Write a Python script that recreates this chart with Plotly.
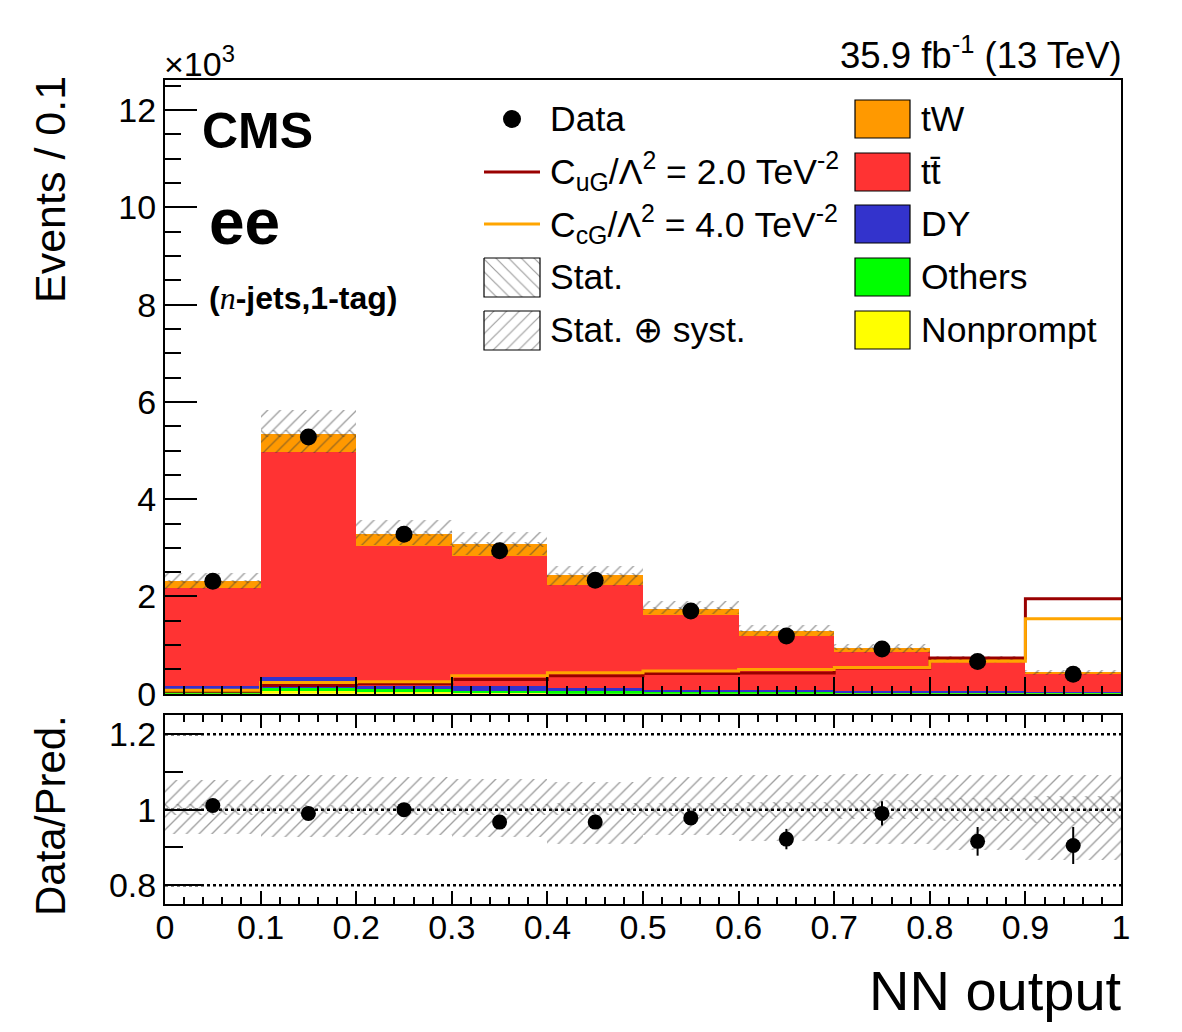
import numpy as np
import plotly.graph_objects as go

# ---------------- data (values in units of 10^3 events) ----------------
bin_edges = [0.0, 0.1, 0.2, 0.3, 0.4, 0.5, 0.6, 0.7, 0.8, 0.9, 1.0]
nonprompt = [0.01, 0.05, 0.04, 0.01, 0.01, 0.01, 0.01, 0.01, 0.01, 0.005]
others    = [0.03, 0.06, 0.05, 0.05, 0.04, 0.03, 0.03, 0.02, 0.02, 0.02]
dy        = [0.11, 0.235, 0.07, 0.10, 0.07, 0.04, 0.03, 0.02, 0.02, 0.01]
ttbar     = [2.03, 4.625, 2.88, 2.67, 2.11, 1.54, 1.11, 0.80, 0.62, 0.375]
tw        = [0.13, 0.38, 0.25, 0.24, 0.21, 0.13, 0.11, 0.08, 0.04, 0.03]
data      = [2.314, 5.28, 3.28, 2.94, 2.335, 1.70, 1.185, 0.92, 0.66, 0.40]
data_err  = [0.048, 0.073, 0.057, 0.054, 0.048, 0.041, 0.034, 0.030, 0.025, 0.020]
cug_sig   = [0.05, 0.17, 0.205, 0.29, 0.37, 0.415, 0.425, 0.53, 0.735, 1.95]
ccg_sig   = [0.07, 0.23, 0.247, 0.37, 0.43, 0.466, 0.50, 0.54, 0.665, 1.54]
ratio     = [1.011, 0.990, 1.000, 0.967, 0.967, 0.978, 0.922, 0.990, 0.916, 0.905]
ratio_err = [0.010, 0.010, 0.012, 0.013, 0.015, 0.018, 0.027, 0.032, 0.038, 0.049]
syst_up   = [0.077, 0.090, 0.086, 0.081, 0.073, 0.086, 0.090, 0.095, 0.090, 0.090]
syst_dn   = [0.064, 0.073, 0.069, 0.073, 0.091, 0.069, 0.085, 0.091, 0.109, 0.135]
stat_unc  = [0.015, 0.012, 0.014, 0.015, 0.016, 0.017, 0.020, 0.025, 0.030, 0.035]
x_ticks   = [0, 0.1, 0.2, 0.3, 0.4, 0.5, 0.6, 0.7, 0.8, 0.9, 1]
x_labels  = ["0", "0.1", "0.2", "0.3", "0.4", "0.5", "0.6", "0.7", "0.8", "0.9", "1"]
y_ticks   = [0, 2, 4, 6, 8, 10, 12]
y_labels  = ["0", "2", "4", "6", "8", "10", "12"]
r_ticks   = [0.8, 1.0, 1.2]
r_labels  = ["0.8", "1", "1.2"]

# ---------------- styling ----------------
FONT = "Liberation Sans, Arial, Helvetica, sans-serif"
C_TW, C_TT, C_DY, C_OT, C_NP = "#FF9900", "#FF3333", "#3333CC", "#00FF00", "#FFFF00"
C_CUG, C_CCG = "#990000", "#FFA500"

W, H = 1182, 1032
L, R, T, B = 165, 61, 80, 128
PW, PH = W - L - R, H - T - B
Y0_MAIN, Y_TOP_RATIO = 693.7, 715.3
YMAX = 12.62


def fx(px):
    return (px - L) / PW


def fy(py):
    return (H - B - py) / PH


def mx(px):
    return (px - L) / PW


def my(py):
    return (Y0_MAIN - py) / (Y0_MAIN - T) * YMAX


edges = np.array(bin_edges)
centers = 0.5 * (edges[:-1] + edges[1:])
widths = np.diff(edges)

fig = go.Figure()

# stacked backgrounds
stack = [(nonprompt, C_NP, "Nonprompt"), (others, C_OT, "Others"), (dy, C_DY, "DY"),
         (ttbar, C_TT, "tt"), (tw, C_TW, "tW")]
base = np.zeros(len(centers))
for vals, col, name in stack:
    v = np.array(vals)
    fig.add_trace(go.Bar(x=centers, y=v, base=base, width=widths, name=name,
                         marker=dict(color=col, line=dict(width=0)), showlegend=False,
                         xaxis="x", yaxis="y"))
    base = base + v
total = base

pat_fg = "#3c3c3c"
PAT_SIZE, PAT_SOL = 9, 0.15
up = np.array(syst_up); dn = np.array(syst_dn); st = np.array(stat_unc)


def band(ybase, yh, shape, xa, ya):
    return go.Bar(x=centers, y=yh, base=ybase, width=widths,
                  marker=dict(color="rgba(0,0,0,0)", line=dict(width=0),
                              pattern=dict(shape=shape, fgcolor=pat_fg, bgcolor="rgba(0,0,0,0)",
                                           size=PAT_SIZE, solidity=PAT_SOL)),
                  showlegend=False, xaxis=xa, yaxis=ya)


# stat+syst and stat bands in main
fig.add_trace(band(total * (1 - dn), total * (up + dn), "/", "x", "y"))
fig.add_trace(band(total * (1 - st), total * 2 * st, "\\", "x", "y"))

# signal lines
for sig, col in [(cug_sig, C_CUG), (ccg_sig, C_CCG)]:
    fig.add_trace(go.Scatter(x=list(edges), y=list(sig) + [sig[-1]], mode="lines",
                             line=dict(color=col, width=3, shape="hv"),
                             showlegend=False, xaxis="x", yaxis="y"))

# data
fig.add_trace(go.Scatter(x=centers, y=data, mode="markers",
                         marker=dict(color="black", size=17),
                         error_y=dict(type="data", array=data_err, color="black", thickness=2, width=0),
                         showlegend=False, xaxis="x", yaxis="y"))

# ratio bands
fig.add_trace(band(1 - dn, up + dn, "/", "x2", "y2"))
fig.add_trace(band(1 - st, 2 * st, "\\", "x2", "y2"))
fig.add_trace(go.Scatter(x=centers, y=ratio, mode="markers",
                         marker=dict(color="black", size=15),
                         error_y=dict(type="data", array=ratio_err, color="black", thickness=2, width=0),
                         showlegend=False, xaxis="x2", yaxis="y2"))

# legend hatched boxes (in main-axis coordinates)
for (y1, y2), shp in [((258, 297), "\\"), ((311, 350), "/")]:
    fig.add_trace(go.Scatter(x=[mx(484), mx(540), mx(540), mx(484), mx(484)],
                             y=[my(y1), my(y1), my(y2), my(y2), my(y1)],
                             mode="lines", fill="toself", fillcolor="rgba(0,0,0,0)",
                             fillpattern=dict(shape=shp, fgcolor="#3c3c3c", bgcolor="white",
                                              size=9, solidity=0.13),
                             line=dict(color="black", width=1.2),
                             showlegend=False, xaxis="x", yaxis="y"))

shapes = []
for yv in r_ticks:
    shapes.append(dict(type="line", xref="x2", yref="y2", x0=0, x1=1, y0=yv, y1=yv,
                       line=dict(color="black", width=2.5, dash="dot"), layer="below"))
# legend: data marker
shapes.append(dict(type="circle", xref="paper", yref="paper",
                   x0=fx(503), x1=fx(521), y0=fy(128), y1=fy(110),
                   fillcolor="black", line=dict(color="black", width=0)))
# legend: lines
for yc, col in [(172, C_CUG), (224, C_CCG)]:
    shapes.append(dict(type="line", xref="paper", yref="paper", x0=fx(484), x1=fx(540),
                       y0=fy(yc), y1=fy(yc), line=dict(color=col, width=3)))
# legend: boxes
right_rows = [(119, C_TW), (172, C_TT), (224, C_DY), (277, C_OT), (330, C_NP)]
for yc, col in right_rows:
    shapes.append(dict(type="rect", xref="paper", yref="paper", x0=fx(855), x1=fx(910),
                       y0=fy(yc + 19), y1=fy(yc - 19), fillcolor=col,
                       line=dict(color="black", width=1.2)))

ann = []


def text(px, py, s, size=35.5, xanchor="left", bold=False, angle=0):
    if bold:
        s = "<b>" + s + "</b>"
    dx = -3 if xanchor == "left" else (3 if xanchor == "right" else 0)
    ann.append(dict(x=fx(px + dx), y=fy(py), xref="paper", yref="paper", text=s, showarrow=False,
                    xanchor=xanchor, yanchor="middle", textangle=angle,
                    font=dict(family=FONT, size=size, color="black")))


text(551, 119, "Data")
text(551, 172, "C<sub>uG</sub>/Λ<sup>2</sup> = 2.0 TeV<sup>-2</sup>")
text(551, 224, "C<sub>cG</sub>/Λ<sup>2</sup> = 4.0 TeV<sup>-2</sup>")
text(551, 277, "Stat.")
text(551, 330, "Stat. ⊕ syst.")
text(922, 119, "tW")
text(922, 172, "tt\u0304")
text(922, 224, "DY")
text(922, 277, "Others")
text(922, 330, "Nonprompt")
text(203, 131, "CMS", size=50, bold=True)
text(210, 222, "ee", size=64, bold=True)
text(210, 298, "(<span style='font-family:Liberation Serif;font-style:italic;font-weight:normal'>n</span>-jets,1-tag)",
     size=32, bold=True)
text(1121, 53, "35.9 fb<sup>-1</sup> (13 TeV)", size=36.5, xanchor="right")
text(165, 62, "×10<sup>3</sup>", size=34)
text(1121, 990, "NN output", size=56, xanchor="right")
ann.append(dict(x=fx(50), y=fy(190), xref="paper", yref="paper", text="Events / 0.1",
                showarrow=False, xanchor="center", yanchor="middle", textangle=-90,
                font=dict(family=FONT, size=43, color="black")))
ann.append(dict(x=fx(50), y=fy(816), xref="paper", yref="paper", text="Data/Pred.",
                showarrow=False, xanchor="center", yanchor="middle", textangle=-90,
                font=dict(family=FONT, size=42, color="black")))

tickfont = dict(family=FONT, size=34, color="black")
fig.update_layout(
    width=W, height=H, margin=dict(l=L, r=R, t=T, b=B, pad=0),
    paper_bgcolor="white", plot_bgcolor="white", barmode="overlay", bargap=0,
    showlegend=False, shapes=shapes, annotations=ann,
    xaxis=dict(domain=[0, 1], anchor="y", range=[0, 1], tickvals=x_ticks, showticklabels=False,
               ticks="inside", ticklen=17, tickwidth=2, tickcolor="black",
               minor=dict(ticks="inside", ticklen=8, tickwidth=1.5, dtick=0.02, tick0=0, tickcolor="black"),
               showline=True, linecolor="black", linewidth=2, mirror=True,
               showgrid=False, zeroline=False, fixedrange=True),
    yaxis=dict(domain=[fy(Y0_MAIN), 1], anchor="x", range=[0, YMAX], tickvals=y_ticks, ticktext=y_labels,
               ticks="inside", ticklen=32, tickwidth=2, tickcolor="black", tickfont=tickfont,
               minor=dict(ticks="inside", ticklen=16, tickwidth=1.5, dtick=0.5, tick0=0, tickcolor="black"),
               showline=True, linecolor="black", linewidth=2, mirror=True,
               showgrid=False, zeroline=False, fixedrange=True),
    xaxis2=dict(domain=[0, 1], anchor="y2", range=[0, 1], tickvals=x_ticks, ticktext=x_labels,
                ticks="inside", ticklen=13, tickwidth=2, tickcolor="black", tickfont=tickfont,
                ticklabelstandoff=-8,
                minor=dict(ticks="inside", ticklen=7, tickwidth=1.5, dtick=0.02, tick0=0, tickcolor="black"),
                showline=True, linecolor="black", linewidth=2, mirror="allticks",
                showgrid=False, zeroline=False, fixedrange=True),
    yaxis2=dict(domain=[0, fy(Y_TOP_RATIO)], anchor="x2", range=[0.75, 1.25], tickvals=r_ticks,
                ticktext=r_labels, ticks="inside", ticklen=38, tickwidth=2, tickcolor="black",
                tickfont=tickfont,
                minor=dict(ticks="inside", ticklen=18, tickwidth=1.5, dtick=0.1, tick0=0.8, tickcolor="black"),
                showline=True, linecolor="black", linewidth=2, mirror=True,
                showgrid=False, zeroline=False, fixedrange=True),
)

fig.write_html("out.html")
